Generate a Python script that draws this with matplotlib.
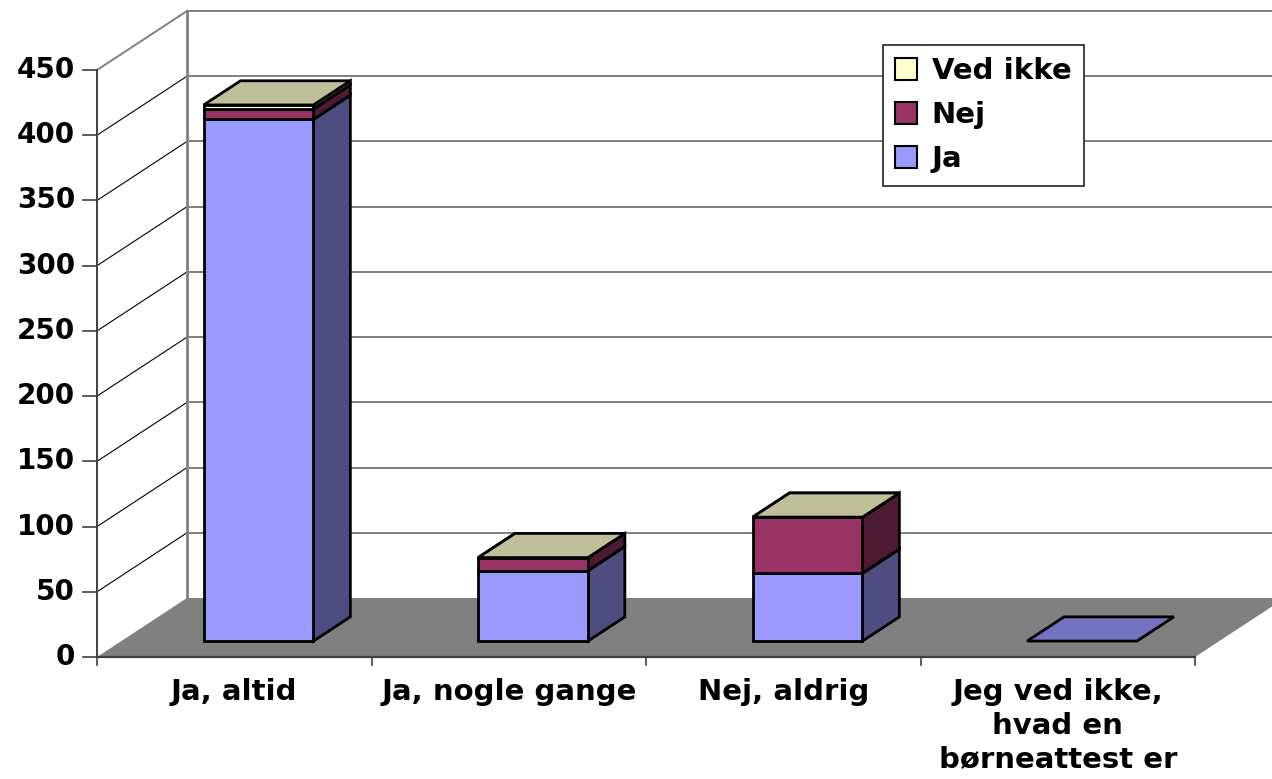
"""
3D-style stacked column chart: børneattest survey answers.
Writes: out.png
"""
import matplotlib
matplotlib.use("Agg")
import matplotlib.pyplot as plt
from matplotlib.patches import Polygon, Patch

# --- data -------------------------------------------------------------
categories = ["Ja, altid", "Ja, nogle gange", "Nej, aldrig",
              "Jeg ved ikke,\nhvad en\nbørneattest er"]
series_names = ["Ja", "Nej", "Ved ikke"]
ja = [400, 54, 52, 0]
nej = [8, 10, 43, 0]
ved_ikke = [3, 0, 0, 0]
y_ticks = [0, 50, 100, 150, 200, 250, 300, 350, 400, 450]

# --- style ------------------------------------------------------------
FRONT = {"Ja": "#9999FF", "Nej": "#993366", "Ved ikke": "#FFFFCC"}
SIDE = {"Ja": "#4D4D80", "Nej": "#4D1A33", "Ved ikke": "#808066"}
TOP = {"Ja": "#7373BF", "Nej": "#73264D", "Ved ikke": "#BFBF99"}
FLOOR = "#808080"
WALL_LINE = "#808080"
AXIS = "#404040"
TICK_FONT = dict(family="DejaVu Sans", weight="bold", size=20)
CAT_FONT = dict(family="DejaVu Sans", weight="bold", size=21)

# pixel geometry of the reference (origin top-left)
W, H = 1272, 779
X0_PX, CAT_PX = 97, 274.5          # x of value axis, width of one category
Y0_PX, UNIT_PX = 657, 1.3044       # y of zero, pixels per unit
DEPTH_PX = (90, 59)                # back wall offset

DX = DEPTH_PX[0] / CAT_PX
DV = DEPTH_PX[1] / UNIT_PX
F0, F1 = 0.27, 0.68                # bar depth range (fraction of full depth)
BAR_W = 0.40
VMAX = 450


def draw_box(ax, c, base, top, name, z):
    xl, xr = c - BAR_W / 2, c + BAR_W / 2
    b0, t0 = base + F0 * DV, top + F0 * DV
    b1, t1 = base + F1 * DV, top + F1 * DV
    kw = dict(edgecolor="black", linewidth=2.0, joinstyle="miter", zorder=z)
    side = [(xr + F0 * DX, b0), (xr + F1 * DX, b1), (xr + F1 * DX, t1), (xr + F0 * DX, t0)]
    front = [(xl + F0 * DX, b0), (xr + F0 * DX, b0), (xr + F0 * DX, t0), (xl + F0 * DX, t0)]
    lid = [(xl + F0 * DX, t0), (xr + F0 * DX, t0), (xr + F1 * DX, t1), (xl + F1 * DX, t1)]
    if top > base:
        ax.add_patch(Polygon(side, closed=True, facecolor=SIDE[name], **kw))
        ax.add_patch(Polygon(front, closed=True, facecolor=FRONT[name], **kw))
    ax.add_patch(Polygon(lid, closed=True, facecolor=TOP[name], **kw))


def main():
    fig = plt.figure(figsize=(W / 100, H / 100), dpi=100)
    ax = fig.add_axes([0, 0, 1, 1])
    ax.set_xlim(-X0_PX / CAT_PX, (W - X0_PX) / CAT_PX)
    ax.set_ylim(-(H - Y0_PX) / UNIT_PX, Y0_PX / UNIT_PX)
    ax.axis("off")

    n = len(categories)
    right = n + DX + 1

    # floor
    ax.add_patch(Polygon([(0, 0), (n, 0), (n + DX, DV), (DX, DV)], closed=True,
                         facecolor=FLOOR, edgecolor="none", zorder=1))

    # walls and gridlines
    for v in y_ticks[1:]:
        last = v == VMAX
        ax.plot([0, DX], [v, v + DV], color=WALL_LINE if last else "black",
                lw=1.4 if last else 0.8, zorder=2)
        ax.plot([DX, right], [v + DV, v + DV], color=WALL_LINE, lw=1.4, zorder=2)
    ax.plot([DX, DX], [DV, VMAX + DV], color=WALL_LINE, lw=2.0, zorder=2)

    # axes
    ax.plot([0, 0], [0, VMAX], color=AXIS, lw=1.4, zorder=3)
    ax.plot([0, n], [0, 0], color=AXIS, lw=1.6, zorder=3)
    tick_x = 14 / CAT_PX
    for v in y_ticks:
        ax.plot([-tick_x, 0], [v, v], color=AXIS, lw=1.2, zorder=3)
        ax.text(-22 / CAT_PX, v, str(v), ha="right", va="center", **TICK_FONT)
    for i in range(n + 1):
        ax.plot([i, i], [0, -8 / UNIT_PX], color=AXIS, lw=1.2, zorder=3)
    for i, cat in enumerate(categories):
        ax.text(i + 0.5, -21 / UNIT_PX, cat, ha="center", va="top",
                linespacing=1.25, **CAT_FONT)

    # bars
    stacks = [("Ja", ja), ("Nej", nej), ("Ved ikke", ved_ikke)]
    for i in range(n):
        c = i + 0.5
        total = ja[i] + nej[i] + ved_ikke[i]
        base = 0
        for name, vals in stacks:
            if total == 0 and name != "Ja":
                continue
            draw_box(ax, c, base, base + vals[i], name, z=5 + i)
            base += vals[i]

    # legend
    handles = [Patch(facecolor=FRONT[s], edgecolor="black", linewidth=1.5)
               for s in reversed(series_names)]
    leg = fig.legend(handles, list(reversed(series_names)), loc="upper left",
                     bbox_to_anchor=(883 / W, 1 - 45 / H), borderaxespad=0,
                     prop={"family": "DejaVu Sans", "weight": "bold", "size": 21},
                     handlelength=0.75, handleheight=0.75, handletextpad=0.5,
                     labelspacing=0.55, borderpad=0.42, fancybox=False,
                     framealpha=1, edgecolor="#222222")
    leg.get_frame().set_linewidth(1.2)
    leg.set_zorder(10)

    fig.savefig("out.png", dpi=100, facecolor="white")
    plt.close(fig)


if __name__ == "__main__":
    main()
